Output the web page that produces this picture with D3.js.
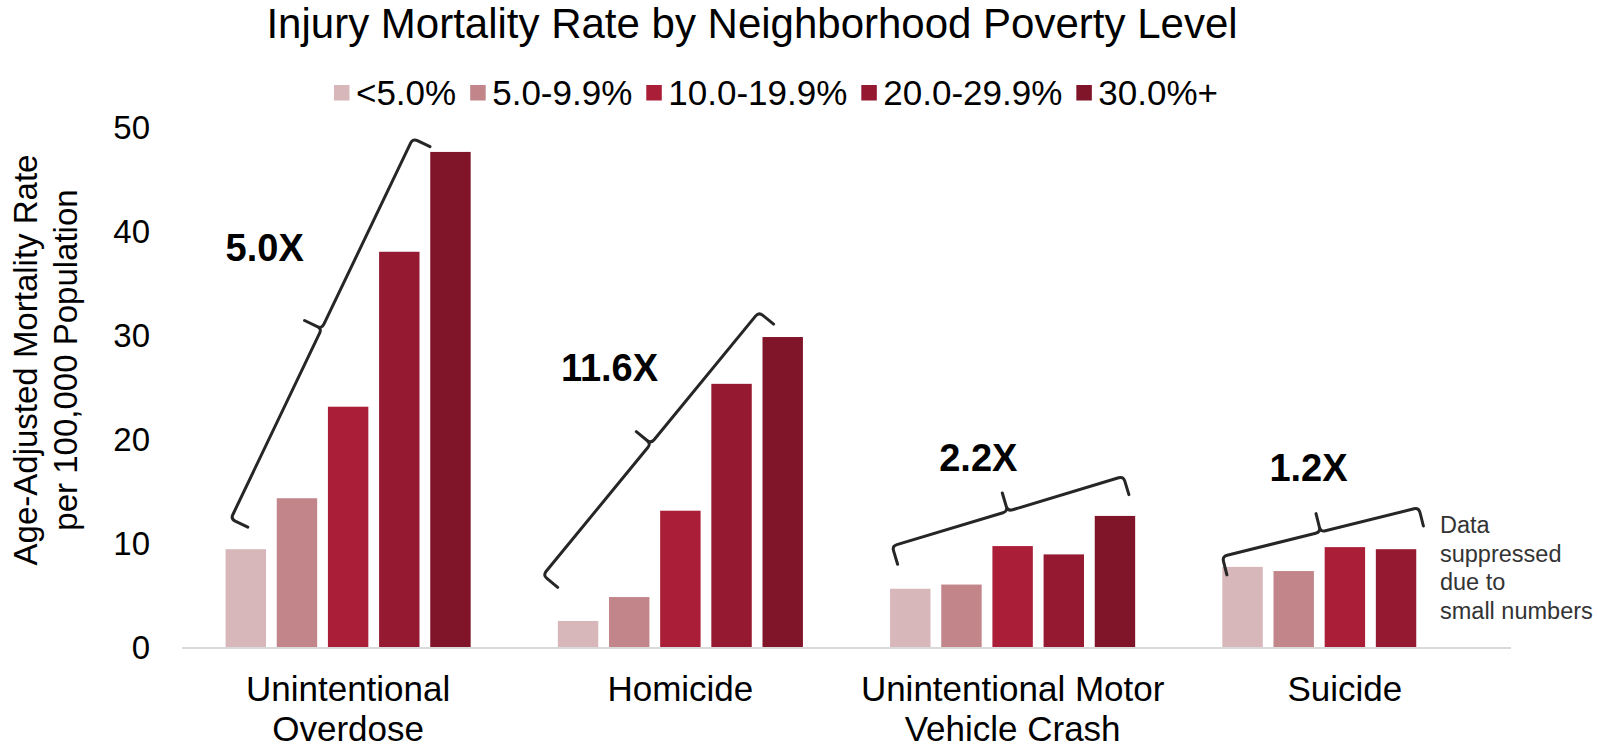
<!DOCTYPE html>
<html>
<head>
<meta charset="utf-8">
<script src="https://cdn.jsdelivr.net/npm/d3@7"></script>
<style>
  body { margin: 0; background: #fff; }
  svg { display: block; font-family: "Liberation Sans", Arial, sans-serif; }
</style>
</head>
<body>
<svg id="chart"></svg>
<script>
const categories = ["Unintentional Overdose", "Homicide", "Unintentional Motor Vehicle Crash", "Suicide"];
const categoryLines = [["Unintentional", "Overdose"], ["Homicide"], ["Unintentional Motor", "Vehicle Crash"], ["Suicide"]];
const povertyLevels = ["<5.0%", "5.0-9.9%", "10.0-19.9%", "20.0-29.9%", "30.0%+"];
const rateUnder5 = [9.5, 2.6, 5.7, 7.8];
const rate5to10 = [14.4, 4.9, 6.1, 7.4];
const rate10to20 = [23.2, 13.2, 9.8, 9.7];
const rate20to30 = [38.1, 25.4, 9.0, 9.5];
const rate30plus = [47.7, 29.9, 12.7, null];
const yTicks = [0, 10, 20, 30, 40, 50];
const ratioLabels = ["5.0X", "11.6X", "2.2X", "1.2X"];
// brace ends: position in bar steps from first bar, and rate value
const braceStartSlot = [0.1, -0.29, 0.04, 0];
const braceStartValue = [12.4, 7.0, 9.8, 8.8];
const braceEndSlot = [3.66, 3.93, 4.56, 3.84];
const braceEndValue = [49.0, 32.3, 16.5, 13.5];
const labelSlot = [0, 0.06, 0.96, 0.92];
const labelValue = [37.2, 25.7, 17.0, 16.1];
const noteLines = ["Data", "suppressed", "due to", "small numbers"];

const colors = ["#d7b7b9", "#c2868a", "#aa1e38", "#961932", "#801428"];
const series = [rateUnder5, rate5to10, rate10to20, rate20to30, rate30plus];

const width = 1598;
const height = 747;

const svg = d3.select("#chart").attr("width", width).attr("height", height);

const x0 = d3.scaleBand()
  .domain(categories)
  .range([182, 1511])
  .paddingInner(0.23)
  .paddingOuter(0.115);

const x1 = d3.scaleBand()
  .domain(povertyLevels)
  .range([0, x0.bandwidth()])
  .paddingInner(0.21)
  .paddingOuter(0.105);

const y = d3.scaleLinear().domain([0, 50]).range([648, 128]);

const slotX = (cat, t) => x0(cat) + x1(povertyLevels[0]) + t * x1.step();

// title
svg.append("text")
  .attr("x", 752)
  .attr("y", 38)
  .attr("text-anchor", "middle")
  .attr("font-size", 42)
  .attr("fill", "#000")
  .text("Injury Mortality Rate by Neighborhood Poverty Level");

// legend
const legend = svg.append("g");
let lx = 0;
povertyLevels.forEach((lvl, i) => {
  const g = legend.append("g").attr("transform", `translate(${lx},0)`);
  g.append("rect").attr("x", 0).attr("y", 85).attr("width", 15.5).attr("height", 15.5).attr("fill", colors[i]);
  const t = g.append("text")
    .attr("x", 22)
    .attr("y", 105)
    .attr("font-size", 35)
    .attr("fill", "#000")
    .text(lvl);
  lx += 22 + t.node().getComputedTextLength() + 14;
});
legend.attr("transform", `translate(${776 - (lx - 14) / 2},0)`);

// y axis
svg.append("g")
  .attr("transform", "translate(182,0)")
  .call(d3.axisLeft(y).tickValues(yTicks).tickSize(0).tickPadding(32))
  .call((g) => g.select(".domain").remove())
  .selectAll("text")
  .attr("font-size", 33)
  .attr("font-family", "Liberation Sans, Arial, sans-serif")
  .attr("fill", "#000");

svg.append("text")
  .attr("transform", "translate(37,360) rotate(-90)")
  .attr("text-anchor", "middle")
  .attr("font-size", 33)
  .attr("fill", "#000")
  .call((t) => {
    t.append("tspan").attr("x", 0).attr("dy", 0).text("Age-Adjusted Mortality Rate");
    t.append("tspan").attr("x", 0).attr("dy", 40).text("per 100,000 Population");
  });

// bars
const groups = svg.append("g")
  .selectAll("g")
  .data(categories)
  .join("g")
  .attr("transform", (d) => `translate(${x0(d)},0)`);

groups.selectAll("rect")
  .data((d, ci) => povertyLevels.map((lvl, si) => ({ lvl, si, value: series[si][ci] })).filter((d) => d.value != null))
  .join("rect")
  .attr("x", (d) => x1(d.lvl))
  .attr("y", (d) => y(d.value))
  .attr("width", x1.bandwidth())
  .attr("height", (d) => y(0) - y(d.value))
  .attr("fill", (d) => colors[d.si]);

// baseline
svg.append("line")
  .attr("x1", x0.range()[0])
  .attr("x2", x0.range()[1])
  .attr("y1", y(0))
  .attr("y2", y(0))
  .attr("stroke", "#d9d9d9")
  .attr("stroke-width", 2);

// category labels
svg.append("g")
  .selectAll("text")
  .data(categories)
  .join("text")
  .attr("x", (d) => x0(d) + x0.bandwidth() / 2)
  .attr("y", 701)
  .attr("text-anchor", "middle")
  .attr("font-size", 35)
  .attr("fill", "#000")
  .each(function (d, i) {
    categoryLines[i].forEach((line, k) => {
      d3.select(this).append("tspan")
        .attr("x", x0(d) + x0.bandwidth() / 2)
        .attr("dy", k === 0 ? 0 : 40)
        .text(line);
    });
  });

// braces
function bracePath(ax, ay, bx, by, h, r) {
  const len = Math.hypot(bx - ax, by - ay);
  const ux = (bx - ax) / len, uy = (by - ay) / len;
  // normal pointing toward the bars (right / down side)
  const nx = -uy, ny = ux;
  const mx = (ax + bx) / 2, my = (ay + by) / 2;
  const p = (x, y) => `${x.toFixed(1)},${y.toFixed(1)}`;
  return [
    "M", p(ax + nx * h, ay + ny * h),
    "L", p(ax + nx * r, ay + ny * r),
    "Q", p(ax, ay), p(ax + ux * r, ay + uy * r),
    "L", p(mx - ux * r, my - uy * r),
    "Q", p(mx, my), p(mx - nx * r, my - ny * r),
    "L", p(mx - nx * h, my - ny * h),
    "M", p(mx - nx * r, my - ny * r),
    "Q", p(mx, my), p(mx + ux * r, my + uy * r),
    "L", p(bx - ux * r, by - uy * r),
    "Q", p(bx, by), p(bx + nx * r, by + ny * r),
    "L", p(bx + nx * h, by + ny * h)
  ].join(" ");
}

svg.append("g")
  .selectAll("path")
  .data(categories)
  .join("path")
  .attr("d", (d, i) => bracePath(
    slotX(d, braceStartSlot[i]), y(braceStartValue[i]),
    slotX(d, braceEndSlot[i]), y(braceEndValue[i]), 19, 5))
  .attr("fill", "none")
  .attr("stroke", "#262626")
  .attr("stroke-width", 3)
  .attr("stroke-linecap", "round");

// ratio labels
svg.append("g")
  .selectAll("text")
  .data(categories)
  .join("text")
  .attr("x", (d, i) => slotX(d, labelSlot[i]))
  .attr("y", (d, i) => y(labelValue[i]))
  .attr("font-size", 38)
  .attr("font-weight", "bold")
  .attr("fill", "#000")
  .text((d, i) => ratioLabels[i]);

// suppression note
svg.append("text")
  .attr("x", x0("Suicide") + x1("30.0%+") + 13)
  .attr("y", 533)
  .attr("font-size", 23.5)
  .attr("fill", "#333")
  .selectAll("tspan")
  .data(noteLines)
  .join("tspan")
  .attr("x", x0("Suicide") + x1("30.0%+") + 13)
  .attr("dy", (d, i) => (i === 0 ? 0 : 28.5))
  .text((d) => d);
</script>
</body>
</html>
